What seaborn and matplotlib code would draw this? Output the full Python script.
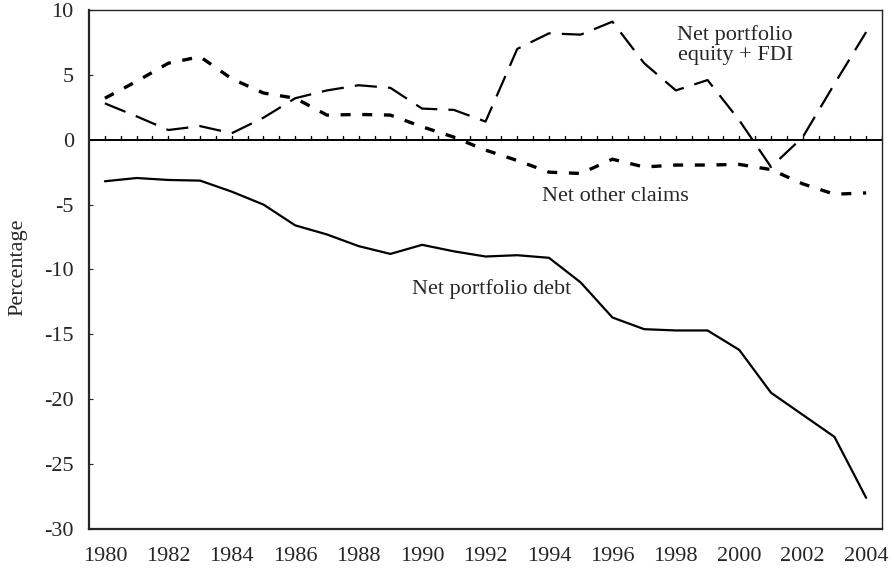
import numpy as np
import pandas as pd
import matplotlib
matplotlib.use("Agg")
import matplotlib.pyplot as plt
import seaborn as sns

years = list(range(1980, 2005))
debt = [-3.2, -2.95, -3.1, -3.15, -4.0, -5.0, -6.6, -7.3, -8.2, -8.8, -8.1, -8.6, -9.0,
        -8.9, -9.1, -11.0, -13.7, -14.6, -14.7, -14.7, -16.2, -19.5, -21.2, -22.9, -27.6]
equity_fdi = [2.8, 1.8, 0.75, 1.05, 0.5, 1.7, 3.2, 3.8, 4.2, 4.0, 2.4, 2.3, 1.4,
              7.0, 8.2, 8.1, 9.1, 5.9, 3.8, 4.6, 1.5, -2.1, 0.2, 4.3, 8.3]
other_claims = [3.2, 4.5, 5.9, 6.4, 4.7, 3.6, 3.2, 1.9, 1.95, 1.9, 1.0, 0.2, -0.8,
                -1.6, -2.5, -2.6, -1.5, -2.1, -1.95, -1.95, -1.9, -2.3, -3.4, -4.2, -4.1]
yticks = [10, 5, 0, -5, -10, -15, -20, -25, -30]
xticks = list(range(1980, 2005, 2))

df = pd.DataFrame({
    "year": years * 3,
    "value": debt + equity_fdi + other_claims,
    "series": (["Net portfolio debt"] * len(years) + ["Net portfolio equity + FDI"] * len(years)
               + ["Net other claims"] * len(years)),
})

sns.set_style("ticks")
plt.rcParams["font.family"] = ["Liberation Serif", "DejaVu Serif"]

fig = plt.figure(figsize=(8.94, 5.71), dpi=100)
ax = fig.add_axes([0.0996, 0.0736, 0.8870, 0.9089])

dash_map = {
    "Net portfolio debt": None,
    "Net portfolio equity + FDI": (10, 5),
    "Net other claims": (3, 3.5),
}
widths = {"Net portfolio debt": 1.6, "Net portfolio equity + FDI": 1.6, "Net other claims": 2.4}
for name in ["Net portfolio debt", "Net portfolio equity + FDI", "Net other claims"]:
    sub = df[df["series"] == name]
    sns.lineplot(data=sub, x="year", y="value", ax=ax, color="black",
                 linewidth=widths[name], legend=False)
    if dash_map[name] is not None:
        ax.lines[-1].set_dashes(dash_map[name])

ax.axhline(0, color="black", linewidth=1.4, zorder=1)
for xv in np.arange(1980, 2004.6, 0.5):
    ax.plot([xv, xv], [0, 0.3], color="black", linewidth=1.0, zorder=1)

ax.set_xlim(1979.5, 2004.5)
ax.set_ylim(-30, 10)
ax.set_xticks(xticks)
ax.set_yticks(yticks)
ax.set_yticklabels([str(v) for v in yticks])
ax.tick_params(axis="x", length=0, pad=13, labelsize=16)
ax.tick_params(axis="y", direction="in", length=3, pad=11, labelsize=16)
ax.set_xlabel("")
ax.set_ylabel("Percentage", fontsize=16)
ax.yaxis.set_label_coords(-0.078, 0.505)

for s in ["left", "bottom"]:
    ax.spines[s].set_linewidth(1.6)
for s in ["top", "right"]:
    ax.spines[s].set_linewidth(1.0)
    ax.spines[s].set_visible(True)

ax.text(1999.87, 7.3, "Net portfolio\nequity + FDI", ha="center", va="center", fontsize=16,
        linespacing=1.1)
ax.text(1996.1, -4.4, "Net other claims", ha="center", va="center", fontsize=16)
ax.text(1992.2, -11.5, "Net portfolio debt", ha="center", va="center", fontsize=16)

fig.savefig("out.png", dpi=100, facecolor="white")
